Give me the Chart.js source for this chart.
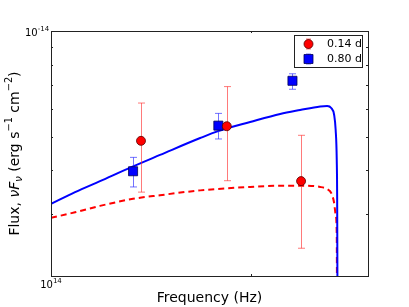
<!DOCTYPE html>
<html>
<head>
<meta charset="utf-8">
<script src="https://cdn.jsdelivr.net/npm/chart.js@4.4.1/dist/chart.umd.min.js"></script>
<style>
  html, body { margin: 0; padding: 0; background: #fff; }
</style>
</head>
<body>
<canvas id="sed" width="409" height="307"></canvas>
<script>
// observed points, 0.14 d
const earlyFreq = [1.366e14, 1.839e14, 2.379e14]
const earlyFlux = [4.86e-15, 5.35e-15, 3.73e-15]
const earlyLo = [3.47e-15, 3.74e-15, 2.40e-15]
const earlyHi = [6.23e-15, 6.94e-15, 5.04e-15]

// observed points, 0.80 d
const lateFreq = [1.329e14, 1.786e14, 2.309e14]
const lateFlux = [3.98e-15, 5.37e-15, 7.21e-15]
const lateLo = [3.59e-15, 4.92e-15, 6.82e-15]
const lateHi = [4.36e-15, 5.82e-15, 7.55e-15]

// model curves
const lateModelFreq = [1.000e14, 1.087e14, 1.185e14, 1.329e14, 1.459e14, 1.677e14, 1.785e14, 1.994e14,
  2.213e14, 2.371e14, 2.542e14, 2.604e14, 2.641e14, 2.668e14, 2.682e14, 2.692e14, 2.696e14, 2.701e14]
const lateModelFlux = [3.21e-15, 3.47e-15, 3.73e-15, 4.11e-15, 4.43e-15, 4.95e-15, 5.18e-15, 5.50e-15,
  5.80e-15, 5.95e-15, 6.09e-15, 6.11e-15, 6.03e-15, 5.76e-15, 5.22e-15, 4.29e-15, 3.30e-15, 1.0e-15]
const earlyModelFreq = [1.000e14, 1.087e14, 1.185e14, 1.329e14, 1.459e14, 1.677e14, 1.994e14, 2.213e14,
  2.371e14, 2.542e14, 2.604e14, 2.641e14, 2.668e14, 2.682e14, 2.692e14, 2.696e14]
const earlyModelFlux = [2.93e-15, 3.04e-15, 3.17e-15, 3.32e-15, 3.40e-15, 3.51e-15, 3.59e-15, 3.62e-15,
  3.62e-15, 3.59e-15, 3.54e-15, 3.45e-15, 3.23e-15, 2.99e-15, 2.62e-15, 1.0e-15]

const xMin = 1e14, xMax = 3e14
const yMin = 2e-15, yMax = 1e-14
const xMinorTicks = [2e14]
const yMinorTicks = [3e-15, 4e-15, 5e-15, 6e-15, 7e-15, 8e-15, 9e-15]

const pts = (xs, ys) => xs.map((x, i) => ({ x: x, y: ys[i] }))

const FONT = '"DejaVu Sans", sans-serif'

// text pieces in a row: [text, style] with style 'n', 'i', 'sup', 'sub', 'isub'
function mathRow(ctx, parts, size) {
  return parts.map(([t, s]) => {
    const small = (s === 'sup' || s === 'sub' || s === 'isub')
    const f = (s === 'i' || s === 'isub' ? 'italic ' : '') + (small ? size * 0.7 : size) + 'px ' + FONT
    ctx.font = f
    return { t, s, f, w: ctx.measureText(t).width }
  })
}
function drawMath(ctx, parts, size, cx, cy, rot) {
  const list = mathRow(ctx, parts, size)
  const total = list.reduce((a, p) => a + p.w, 0)
  ctx.save()
  ctx.translate(cx, cy)
  ctx.rotate(rot || 0)
  ctx.fillStyle = '#000'
  ctx.textBaseline = 'middle'
  ctx.textAlign = 'left'
  let x = -total / 2
  for (const p of list) {
    ctx.font = p.f
    let dy = 0
    if (p.s === 'sup') dy = -size * 0.4
    if (p.s === 'sub' || p.s === 'isub') dy = size * 0.3
    ctx.fillText(p.t, x, dy)
    x += p.w
  }
  ctx.restore()
}

function errBar(ctx, x, y1, y2, cap) {
  ctx.beginPath()
  ctx.moveTo(x, y1); ctx.lineTo(x, y2)
  ctx.moveTo(x - cap, y1); ctx.lineTo(x + cap, y1)
  ctx.moveTo(x - cap, y2); ctx.lineTo(x + cap, y2)
  ctx.stroke()
}

const decor = {
  id: 'decor',
  beforeDatasetDraw(chart, args) {
    const ds = chart.data.datasets[args.index]
    if (!ds.errLo) return
    const ctx = chart.ctx
    const xs = chart.scales.x, ys = chart.scales.y
    ctx.save()
    ctx.strokeStyle = ds.errColor
    ctx.lineWidth = 1
    ds.data.forEach((p, i) => {
      const x = Math.round(xs.getPixelForValue(p.x)) + 0.5
      errBar(ctx, x, ys.getPixelForValue(ds.errHi[i]), ys.getPixelForValue(ds.errLo[i]), 3.5)
    })
    ctx.restore()
  },
  afterDraw(chart) {
    const ctx = chart.ctx
    const a = chart.chartArea
    const xs = chart.scales.x, ys = chart.scales.y
    ctx.save()
    // frame
    ctx.strokeStyle = '#222'
    ctx.lineWidth = 1
    ctx.strokeRect(Math.round(a.left) + 0.5, Math.round(a.top) + 0.5,
      Math.round(a.right - a.left), Math.round(a.bottom - a.top))
    // inward ticks
    ctx.beginPath()
    xMinorTicks.forEach(v => {
      const x = Math.round(xs.getPixelForValue(v)) + 0.5
      ctx.moveTo(x, a.bottom); ctx.lineTo(x, a.bottom - 2)
      ctx.moveTo(x, a.top); ctx.lineTo(x, a.top + 2)
    })
    yMinorTicks.forEach(v => {
      const y = Math.round(ys.getPixelForValue(v)) + 0.5
      ctx.moveTo(a.left, y); ctx.lineTo(a.left + 2, y)
      ctx.moveTo(a.right, y); ctx.lineTo(a.right - 2, y)
    })
    ctx.stroke()
    // tick labels
    drawMath(ctx, [['10', 'n'], ['14', 'sup']], 10, a.left, a.bottom + 9)
    drawMath(ctx, [['10', 'n'], ['-14', 'sup']], 10, a.left - 14, a.top + 2)
    // axis titles
    drawMath(ctx, [['Frequency (Hz)', 'n']], 14, (a.left + a.right) / 2, 298)
    drawMath(ctx, [['Flux, ', 'n'], ['ν', 'i'], ['F', 'i'], ['ν', 'isub'], [' (erg s', 'n'], ['−1', 'sup'],
      [' cm', 'n'], ['−2', 'sup'], [')', 'n']], 14, 15, (a.top + a.bottom) / 2, -Math.PI / 2)
    // legend
    const lx = 294.5, ly = 35.5, lw = 68, lh = 32
    ctx.fillStyle = '#fff'
    ctx.fillRect(lx, ly, lw, lh)
    ctx.strokeStyle = '#222'
    ctx.strokeRect(lx, ly, lw, lh)
    const entries = chart.data.datasets.filter(d => d.errLo)
    entries.forEach((d, i) => {
      const cy = 44 + i * 15
      const mx = 308.5
      ctx.strokeStyle = d.errColor
      errBar(ctx, mx, cy - 5, cy + 5, 2.5)
      ctx.fillStyle = d.backgroundColor
      ctx.strokeStyle = d.borderColor
      ctx.lineWidth = 0.8
      ctx.beginPath()
      if (d.pointStyle === 'circle') ctx.arc(mx, cy, 4.5, 0, Math.PI * 2)
      else ctx.rect(mx - 4.5, cy - 4.5, 9, 9)
      ctx.fill(); ctx.stroke()
      ctx.lineWidth = 1
      ctx.fillStyle = '#000'
      ctx.font = '11px ' + FONT
      ctx.textBaseline = 'middle'
      ctx.textAlign = 'left'
      ctx.fillText(d.label, 327, cy)
    })
    ctx.restore()
  }
}

new Chart(document.getElementById('sed'), {
  type: 'scatter',
  data: {
    datasets: [
      {
        label: '0.14 d',
        data: pts(earlyFreq, earlyFlux),
        errLo: earlyLo, errHi: earlyHi, errColor: 'rgba(255,50,50,0.65)',
        pointStyle: 'circle', pointRadius: 4.5,
        backgroundColor: '#ff0000', borderColor: '#550000', borderWidth: 0.8,
        order: 1
      },
      {
        label: '0.80 d',
        data: pts(lateFreq, lateFlux),
        errLo: lateLo, errHi: lateHi, errColor: 'rgba(40,40,255,0.65)',
        pointStyle: 'rect', pointRadius: 6.4,
        backgroundColor: '#0000ff', borderColor: '#000055', borderWidth: 0.8,
        order: 2
      },
      {
        type: 'line',
        label: 'model 0.80 d',
        data: pts(lateModelFreq, lateModelFlux),
        borderColor: '#0000ff', borderWidth: 2, pointRadius: 0,
        showLine: true, fill: false, tension: 0.3, cubicInterpolationMode: 'monotone',
        order: 3
      },
      {
        type: 'line',
        label: 'model 0.14 d',
        data: pts(earlyModelFreq, earlyModelFlux),
        borderColor: '#ff0000', borderWidth: 2, borderDash: [6, 4], pointRadius: 0,
        showLine: true, fill: false, tension: 0.3, cubicInterpolationMode: 'monotone',
        order: 4
      }
    ]
  },
  options: {
    responsive: false,
    animation: false,
    layout: { padding: { left: 51, top: 31, right: 41, bottom: 31 } },
    scales: {
      x: { type: 'logarithmic', min: xMin, max: xMax, display: false },
      y: { type: 'logarithmic', min: yMin, max: yMax, display: false }
    },
    plugins: {
      legend: { display: false },
      tooltip: { enabled: false }
    }
  },
  plugins: [decor]
})
</script>
</body>
</html>
